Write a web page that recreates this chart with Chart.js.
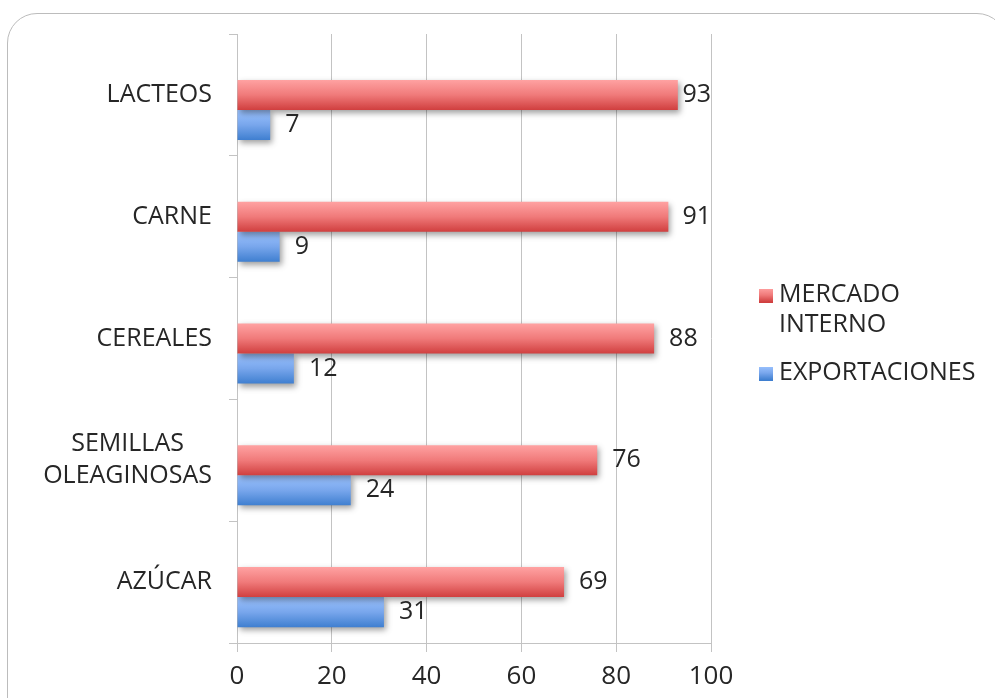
<!DOCTYPE html>
<html>
<head>
<meta charset="utf-8">
<script src="https://cdn.jsdelivr.net/npm/chart.js@4.4.1/dist/chart.umd.min.js"></script>
<style>
  html, body { margin: 0; padding: 0; background: #ffffff; width: 995px; height: 698px; overflow: hidden; }
  #wrap { position: relative; width: 995px; height: 698px; }
  #c { position: absolute; left: 0; top: 0; }
  #frame { position: absolute; left: 7px; top: 13px; width: 1000px; height: 720px; border: 1.5px solid #bcbcbc; border-radius: 30px; box-sizing: border-box; pointer-events: none; }
</style>
</head>
<body>
<div id="wrap">
  <div id="frame"></div>
  <canvas id="c" width="995" height="698"></canvas>
</div>
<script>
// ---- data ----
const categories = [["LACTEOS"], ["CARNE"], ["CEREALES"], ["SEMILLAS", "OLEAGINOSAS"], ["AZÚCAR"]];
const mercadoInterno = [93, 91, 88, 76, 69];
const exportaciones = [7, 9, 12, 24, 31];
const seriesNames = ["MERCADO INTERNO", "EXPORTACIONES"];
const legendLines = [["MERCADO", "INTERNO"], ["EXPORTACIONES"]];
const xTicks = [0, 20, 40, 60, 80, 100];

// ---- styles ----
const FONT = '"Open Sans", sans-serif';
const FS = 25;
const TICKFS = 26;
const TEXT = '#262626';
const GRID = '#c3c3c3';
const gradStops = {
  red: ['#ffa2a2', '#f07a7a', '#d03f3f'],
  blue: ['#9cc3ff', '#78a6ec', '#3f7fd0']
};

function makeGrad(ctx, y0, y1, stops) {
  const g = ctx.createLinearGradient(0, y0, 0, y1);
  g.addColorStop(0, stops[0]);
  g.addColorStop(0.5, stops[1]);
  g.addColorStop(1, stops[2]);
  return g;
}

const customPlugin = {
  id: 'custom',
  beforeDatasetsDraw(chart) {
    const ctx = chart.ctx;
    chart.data.datasets.forEach((ds, di) => {
      if (!ds.gradKey) return;
      const meta = chart.getDatasetMeta(di);
      meta.data.forEach(el => {
        const h = el.height;
        el.options.backgroundColor = makeGrad(ctx, el.y - h / 2, el.y + h / 2, gradStops[ds.gradKey]);
      });
    });
    ctx.save();
    ctx.shadowColor = 'rgba(0,0,0,0.38)';
    ctx.shadowBlur = 6;
    ctx.shadowOffsetX = 2;
    ctx.shadowOffsetY = 3;
  },
  afterDatasetsDraw(chart) {
    const ctx = chart.ctx;
    ctx.restore();
    const area = chart.chartArea;
    ctx.save();
    ctx.font = FS + 'px ' + FONT;
    ctx.fillStyle = TEXT;
    ctx.textBaseline = 'middle';
    ctx.textAlign = 'left';
    chart.data.datasets.forEach((ds, di) => {
      if (!ds.gradKey) return;
      const meta = chart.getDatasetMeta(di);
      meta.data.forEach((el, i) => {
        const v = ds.data[i];
        if (v == null) return;
        const t = String(v);
        const w = ctx.measureText(t).width;
        let x = el.x + 15;
        if (x + w > area.right) x = area.right - w;
        ctx.fillText(t, x, el.y);
      });
    });
    ctx.restore();
  },
  afterDraw(chart) {
    const ctx = chart.ctx;
    const ys = chart.scales.y;
    ctx.save();
    ctx.font = FS + 'px ' + FONT;
    ctx.fillStyle = TEXT;
    ctx.textBaseline = 'middle';
    ctx.textAlign = 'center';
    const rightEdge = ys.right - 25;
    const lh = 32;
    categories.forEach((lines, i) => {
      const cy = ys.getPixelForValue(i);
      const maxW = Math.max(...lines.map(l => ctx.measureText(l).width));
      const cx = rightEdge - maxW / 2;
      const startY = cy - (lines.length - 1) * lh / 2;
      lines.forEach((l, k) => ctx.fillText(l, cx, startY + k * lh));
    });
    // legend
    const keys = ['red', 'blue'];
    const legendRows = [[295, 325], [373]];
    ctx.textAlign = 'left';
    legendLines.forEach((lines, i) => {
      const firstY = legendRows[i][0];
      const sq = 14;
      ctx.fillStyle = makeGrad(ctx, firstY - sq / 2, firstY + sq / 2, gradStops[keys[i]]);
      ctx.fillRect(759, firstY - sq / 2 + 1, sq, sq);
      ctx.fillStyle = TEXT;
      lines.forEach((l, k) => ctx.fillText(l, 779, legendRows[i][k]));
    });
    ctx.restore();
  }
};

new Chart(document.getElementById('c'), {
  type: 'bar',
  data: {
    labels: categories,
    datasets: [
      { label: '', data: categories.map(() => null) },
      { label: seriesNames[0], data: mercadoInterno, gradKey: 'red', backgroundColor: () => '#e06060' },
      { label: seriesNames[1], data: exportaciones, gradKey: 'blue', backgroundColor: () => '#6090e0' }
    ]
  },
  options: {
    indexAxis: 'y',
    responsive: false,
    animation: false,
    devicePixelRatio: 1,
    categoryPercentage: 0.74,
    barPercentage: 1,
    layout: { padding: { top: 34, right: 284, bottom: 0, left: 0 } },
    plugins: { legend: { display: false }, tooltip: { enabled: false } },
    scales: {
      x: {
        min: 0, max: 100,
        afterFit(s) { s.height = 55; },
        afterBuildTicks(s) { s.ticks = xTicks.map(v => ({ value: v })); },
        grid: { color: GRID, lineWidth: 1, tickLength: 9, drawTicks: true },
        border: { display: true, color: GRID, width: 1 },
        ticks: { font: { family: FONT, size: TICKFS }, color: TEXT, padding: 9, maxRotation: 0 }
      },
      y: {
        offset: true,
        afterFit(s) { s.width = 237; },
        grid: { offset: true, drawOnChartArea: false, color: GRID, tickLength: 8 },
        border: { display: true, color: GRID, width: 1 },
        ticks: { display: false }
      }
    }
  },
  plugins: [customPlugin]
});
</script>
</body>
</html>
